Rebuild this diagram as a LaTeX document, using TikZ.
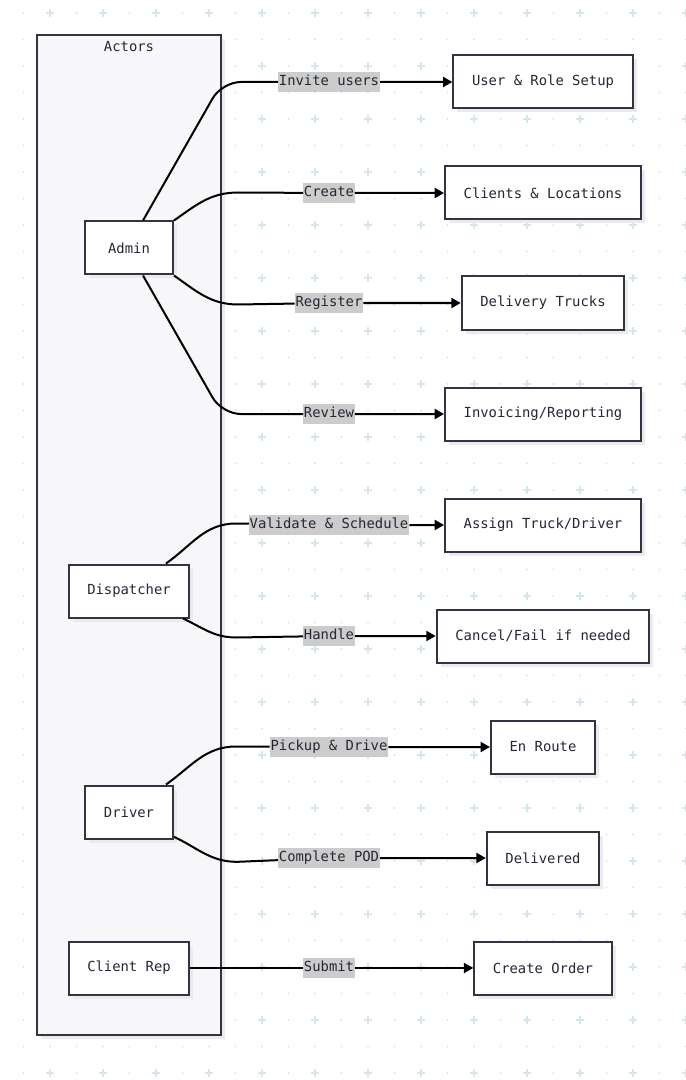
\documentclass[tikz,border=0pt]{standalone}
\usepackage{fontspec}
\setmonofont{DejaVu Sans Mono}
\usetikzlibrary{arrows.meta,shadows}

\definecolor{boxline}{HTML}{333344}
\definecolor{textc}{HTML}{262636}
\definecolor{actorsfill}{HTML}{F7F7FA}
\definecolor{lblfill}{HTML}{CCCCCC}
\definecolor{gridc}{HTML}{D6E7EB}

\tikzset{
  box/.style={draw=boxline, fill=white, line width=1.5pt, text=textc,
              minimum height=39.75pt, inner xsep=14pt,
              drop shadow={shadow xshift=3pt, shadow yshift=-3pt,
                           fill=black!8, opacity=1}},
  lbl/.style={fill=lblfill, text=textc, inner xsep=0.5pt, inner ysep=2.5pt,
              text height=8pt, text depth=2.5pt},
  flow/.style={line width=1.5pt, -{Triangle[length=7pt,width=7.5pt]}}
}

\begin{document}
\begin{tikzpicture}[x=0.75pt,y=-0.75pt,
                    font=\ttfamily\fontsize{10.4}{12}\selectfont]
\useasboundingbox (0,0) rectangle (685,1080);

% background grid
\foreach \i in {0,...,25}{
  \foreach \j in {0,...,40}{
    \fill[gridc] (23.5+26.5*\i,13+26.5*\j) circle (0.9pt);
  }
}
\foreach \i in {1,3,...,25}{
  \foreach \j in {0,2,...,40}{
    \draw[gridc, line width=1pt] (19.5+26.5*\i,13+26.5*\j) -- ++(8,0)
                                 (23.5+26.5*\i,9+26.5*\j) -- ++(0,8);
  }
}

% actors group
\node[box, fill=actorsfill, minimum width=138pt, minimum height=750pt]
  (actors) at (129,535) {};
\node[text=textc] (actorstitle) at (129,47) {Actors};

\begin{scope}[every node/.style={box, minimum width=66pt}]
  \node (admin)      at (129,248) {Admin};
  \node (dispatcher) at (129,591) {Dispatcher};
  \node (driver)     at (129,812) {Driver};
  \node (clientrep)  at (129,968) {Client Rep};
\end{scope}

\begin{scope}[every node/.style={box}]
  \node (userrole)    at (543,82)  {User \& Role Setup};
  \node (clients)     at (543,193) {Clients \& Locations};
  \node (trucks)      at (543,303) {Delivery Trucks};
  \node (invoicing)   at (543,414) {Invoicing/Reporting};
  \node (assign)      at (543,525) {Assign Truck/Driver};
  \node (cancel)      at (543,636) {Cancel/Fail if needed};
  \node (enroute)     at (543,747) {En Route};
  \node (delivered)   at (543,858) {Delivered};
  \node (createorder) at (543,968) {Create Order};
\end{scope}

\begin{scope}[every node/.style={lbl}]
  \node (linvite)   at (329,82)  {Invite users};
  \node (lcreate)   at (329,193) {Create};
  \node (lregister) at (329,303) {Register};
  \node (lreview)   at (329,414) {Review};
  \node (lvalidate) at (329,525) {Validate \& Schedule};
  \node (lhandle)   at (329,636) {Handle};
  \node (lpickup)   at (329,747) {Pickup \& Drive};
  \node (lpod)      at (329,858) {Complete POD};
  \node (lsubmit)   at (329,968) {Submit};
\end{scope}

\begin{scope}[every path/.style={flow}]
  \draw[rounded corners=14pt] ([xshift=10.5pt]admin.north) -- (222,82)
    -- (linvite) -- (userrole);
  \draw (admin.north east) to[out=35,in=180] ++(64,-28)
    -- (lcreate) -- (clients);
  \draw (admin.south east) to[out=-35,in=180] ++(64,29)
    -- (lregister) -- (trucks);
  \draw[rounded corners=14pt] ([xshift=10.5pt]admin.south) -- (222,414)
    -- (lreview) -- (invoicing);
  \draw ([xshift=27.75pt]dispatcher.north) to[out=35,in=180] ++(70,-40)
    -- (lvalidate) -- (assign);
  \draw ([xshift=40.5pt]dispatcher.south) to[out=-25,in=180] ++(53,19)
    -- (lhandle) -- (cancel);
  \draw ([xshift=27.75pt]driver.north) to[out=35,in=180] ++(70,-38)
    -- (lpickup) -- (enroute);
  \draw ([yshift=2pt]driver.south east) to[out=-25,in=180] ++(63,25)
    -- (lpod) -- (delivered);
  \draw (clientrep) -- (lsubmit) -- (createorder);
\end{scope}
\end{tikzpicture}
\end{document}
